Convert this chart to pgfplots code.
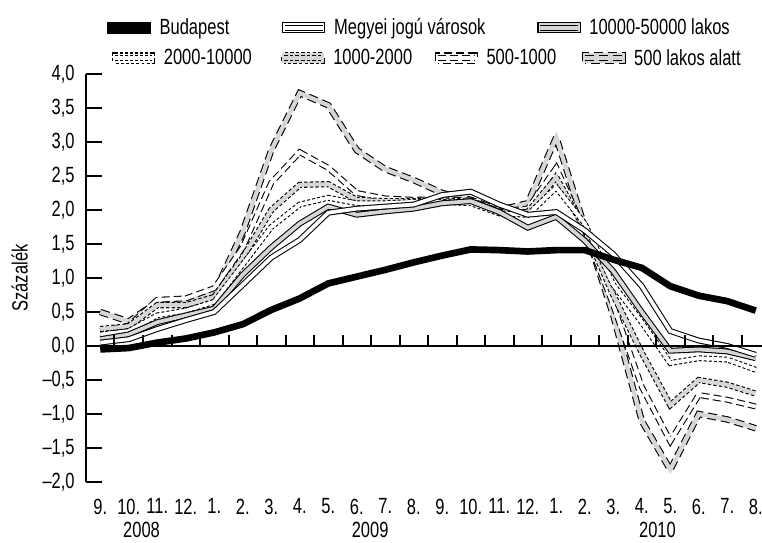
\documentclass[border=0pt]{standalone}
\usepackage{pgfplots}
\pgfplotsset{compat=1.18}
\usepackage{pgfplotstable}
\usepackage{fontspec}
\setmainfont{Liberation Sans}[FakeStretch=0.75]

\definecolor{lgray}{RGB}{214,214,214}

% i: 0 = 2008.9 ... 23 = 2010.8
\pgfplotstableread{
i  bud   meg   k10   k2    k1    h5    h0
0  -0.05 0.05  0.10  0.17  0.25  0.22  0.50
1  -0.03 0.10  0.17  0.22  0.29  0.30  0.36
2  0.05  0.25  0.35  0.45  0.60  0.68  0.65
3  0.11  0.38  0.45  0.52  0.60  0.70  0.66
4  0.20  0.50  0.55  0.65  0.72  0.85  0.78
5  0.32  0.90  1.05  1.20  1.30  1.45  1.68
6  0.53  1.30  1.45  1.75  2.00  2.40  2.88
7  0.70  1.56  1.80  2.08  2.37  2.85  3.72
8  0.92  1.96  2.05  2.18  2.38  2.62  3.54
9  1.02  2.02  1.93  2.10  2.15  2.25  2.88
10 1.12  2.05  1.98  2.10  2.13  2.17  2.60
11 1.23  2.08  2.02  2.12  2.13  2.15  2.44
12 1.33  2.22  2.10  2.12  2.14  2.16  2.25
13 1.42  2.27  2.13  2.10  2.12  2.14  2.15
14 1.41  2.08  1.97  1.95  1.97  1.98  2.00
15 1.39  1.93  1.74  1.93  1.97  2.02  2.10
16 1.41  1.97  1.90  2.33  2.48  2.62  3.07
17 1.41  1.70  1.55  1.80  1.72  1.70  1.75
18 1.27  1.35  1.10  0.90  0.75  0.60  0.45
19 1.15  0.88  0.50  0.35  -0.10 -0.60 -1.10
20 0.88  0.22  -0.07 -0.25 -0.87 -1.40 -1.82
21 0.74  0.08  -0.05 -0.18 -0.50 -0.72 -1.00
22 0.66  0.00  -0.08 -0.20 -0.57 -0.79 -1.08
23 0.52  -0.13 -0.18 -0.35 -0.70 -0.89 -1.21
}\data

\tikzset{
  bud/.style={draw=black, line width=5pt},
  mjv/.style={draw=black, line width=4.4pt, postaction={draw=white, line width=2.8pt}},
  k10s/.style={draw=black, line width=4.4pt, postaction={draw=lgray, line width=2.8pt}},
  k2s/.style={draw=black, line width=4.4pt, dash pattern=on 2.2pt off 1.6pt, postaction={draw=white, line width=2.8pt, solid}},
  k1s/.style={draw=black, line width=4.6pt, dash pattern=on 2.6pt off 1.6pt, postaction={draw=lgray, line width=3pt, solid}},
  h5s/.style={draw=black, line width=4.4pt, dash pattern=on 6pt off 3pt, postaction={draw=white, line width=2.8pt, solid}},
  h0s/.style={draw=black, line width=4.8pt, dash pattern=on 7pt off 3.5pt, postaction={draw=lgray, line width=3.2pt, solid}},
}

\newcommand{\fnt}{\fontsize{16.5}{19}\selectfont}

\pgfplotsset{
  base/.style={
    at={(0pt,0pt)}, anchor=south west,
    x=21.375pt, y=51pt,
    xmin=-0.5, xmax=23.22, ymin=-2, ymax=4,
  },
  lgd/.style={
    legend style={draw=none, fill=none, inner sep=0pt, outer sep=0pt, anchor=west,
      font=\fnt, nodes={inner sep=0pt},
      /tikz/every odd column/.style={column sep=6.5pt},
      /tikz/every even column/.style={column sep=0pt}},
    legend cell align=left,
    legend image code/.code={%
      \path[use as bounding box] (0pt,-2pt) rectangle (28pt,2pt);
      \draw[##1] (0pt,0pt) -- (28pt,0pt);},
  },
}

\begin{document}
\begin{tikzpicture}
\useasboundingbox (-64.5pt,-45pt) rectangle (507pt,361.5pt);
\begin{axis}[
  base, lgd,
  clip=false,
  axis y line*=left, axis x line*=bottom,
  x axis line style={draw=none},
  y axis line style={line width=2pt},
  xtick={0,...,23},
  xticklabels={9.,10.,11.,12.,1.,2.,3.,4.,5.,6.,7.,8.,9.,10.,11.,12.,1.,2.,3.,4.,5.,6.,7.,8.},
  xtick style={draw=none},
  ytick={-2,-1.5,-1,-0.5,0,0.5,1,1.5,2,2.5,3,3.5,4},
  yticklabels={{–2,0},{–1,5},{–1,0},{–0,5},{0,0},{0,5},{1,0},{1,5},{2,0},{2,5},{3,0},{3,5},{4,0}},
  ytick align=inside,
  ytick style={line width=1.8pt, black},
  major tick length=12pt,
  tick label style={font=\fnt},
  xticklabel style={yshift=-9pt},
  yticklabel style={xshift=-5pt},
  ylabel={Százalék},
  ylabel style={font=\fnt, at={(axis description cs:-0.098,0.5)}, anchor=center},
  legend style={at={(axis description cs:0.031,1.113)}},
  legend columns=3,
]
\addlegendimage{bud}\addlegendentry{\makebox[92pt][l]{Budapest}}
\addlegendimage{mjv}\addlegendentry{\makebox[152.5pt][l]{Megyei jogú városok}}
\addlegendimage{k10s}\addlegendentry{10000-50000 lakos}

\addplot[h0s, forget plot] table[x=i, y=h0] {\data};
\addplot[h5s, forget plot] table[x=i, y=h5] {\data};
\addplot[k1s, forget plot] table[x=i, y=k1] {\data};
\addplot[k2s, forget plot] table[x=i, y=k2] {\data};
\addplot[k10s, forget plot] table[x=i, y=k10] {\data};
\addplot[mjv, forget plot] table[x=i, y=meg] {\data};
\addplot[bud, forget plot] table[x=i, y=bud] {\data};

% zero line with its ticks
\draw[black, line width=1.8pt] (axis cs:-0.5,0) -- (axis cs:23.22,0);
\pgfplotsinvokeforeach{0,...,22}{\draw[black, line width=1.5pt] (axis cs:#1.5,0) -- ++(0pt,8pt);}

\node[anchor=north, inner sep=0pt, yshift=-30pt, font=\fnt] at (axis cs:1.45,-2) {2008};
\node[anchor=north, inner sep=0pt, yshift=-30pt, font=\fnt] at (axis cs:9.47,-2) {2009};
\node[anchor=north, inner sep=0pt, yshift=-30pt, font=\fnt] at (axis cs:19.55,-2) {2010};
\end{axis}

% second legend row
\begin{axis}[
  base, lgd, hide axis,
  legend style={at={(axis description cs:0.0384,1.039)}},
  legend columns=4,
]
\addlegendimage{k2s}\addlegendentry{\makebox[88pt][l]{2000-10000}}
\addlegendimage{k1s}\addlegendentry{\makebox[76pt][l]{1000-2000}}
\addlegendimage{h5s}\addlegendentry{\makebox[71.5pt][l]{500-1000}}
\addlegendimage{h0s}\addlegendentry{500 lakos alatt}
\end{axis}
\end{tikzpicture}
\end{document}
